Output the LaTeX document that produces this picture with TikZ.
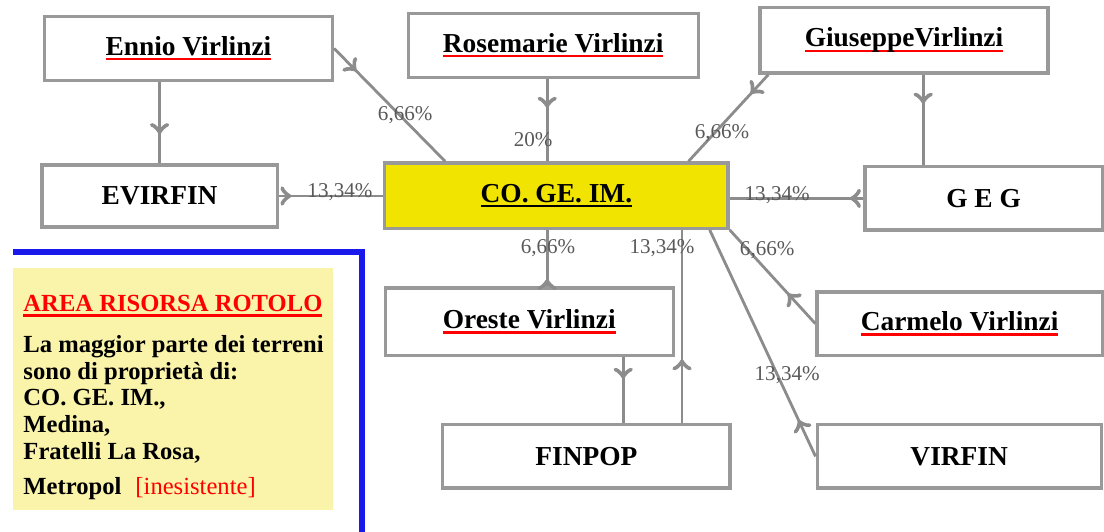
\documentclass[tikz,border=0pt]{standalone}
\usepackage{fontspec}
\setmainfont{Liberation Serif}
\usetikzlibrary{arrows, decorations.markings}
\colorlet{box edge}{black!40}
\colorlet{link line}{black!45}
\colorlet{link tip}{black!70}
\colorlet{pct text}{black!65}
\definecolor{cogeim fill}{RGB}{240,228,0}
\definecolor{note fill}{RGB}{250,243,170}
\definecolor{frame blue}{RGB}{25,25,235}
\newcommand{\ulname}[2][red]{\setbox0\hbox{#2}\rlap{\color{#1}\rule[-3.5pt]{\wd0}{1.6pt}}\box0}
\tikzset{
  person/.style={draw=box edge, line width=2.4pt, fill=white, minimum width=7.2cm,
    minimum height=1.6cm, inner sep=0pt, font=\fontsize{19.5}{22}\selectfont\bfseries},
  link/.style={draw=link line, line width=2pt,
    postaction={decorate, draw=link tip},
    decoration={markings, mark=at position #1 with {\arrow[scale=1.6]{>}}}},
  pct/.style={text=pct text, inner sep=0pt, font=\fontsize{15}{17}\selectfont},
  note/.style={anchor=north west, align=left, inner sep=0pt,
    font=\fontsize{17.5}{19}\selectfont\bfseries}
}

\begin{document}
\begin{tikzpicture}
    \useasboundingbox (0,0) rectangle (27.6,-13.275);
    % riquadro area risorsa
    \fill[note fill] (0.33,-6.7) rectangle (8.33,-12.75);
    \draw[frame blue, line width=4.5pt] (0.33,-6.3) -- (9.05,-6.3) -- (9.05,-13.4);
    \node[note] (area) at (0.58,-7.38) {\textcolor{red}{\ulname{AREA RISORSA ROTOLO}}\\[10pt]
      La maggior parte dei terreni\\
      sono di proprietà di:\\
      CO. GE. IM.,\\
      Medina,\\
      Fratelli La Rosa,\\[6pt]
      Metropol\hspace{10pt}\textcolor{red}{\mdseries[inesistente]}};
    % soci e societa
    \node[person] (ennio) at (4.71,-1.21) {\ulname{Ennio Virlinzi}};
    \node[person, minimum width=7.25cm] (rosemarie) at (13.83,-1.13) {\ulname{Rosemarie Virlinzi}};
    \node[person, minimum height=1.63cm] (giuseppe) at (22.6,-1.01) {\ulname{GiuseppeVirlinzi}};
    \node[person, minimum width=5.88cm, minimum height=1.55cm] (evirfin) at (3.99,-4.9) {EVIRFIN};
    \node[person, fill=cogeim fill, minimum width=8.58cm, minimum height=1.63cm] (cogeim) at (13.91,-4.89) {\ulname[black]{CO. GE. IM.}};
    \node[person, minimum width=5.93cm, minimum height=1.58cm] (geg) at (24.59,-4.96) {G E G};
    \node[person, minimum height=1.68cm] (oreste) at (13.23,-8.04) {\ulname{Oreste Virlinzi}};
    \node[person, minimum width=7.13cm, minimum height=1.58cm] (carmelo) at (23.99,-8.09) {\ulname{Carmelo Virlinzi}};
    \node[person, minimum width=7.18cm, minimum height=1.58cm] (finpop) at (14.66,-11.41) {FINPOP};
    \node[person, minimum width=7.1cm, minimum height=1.58cm] (virfin) at (23.98,-11.41) {VIRFIN};
    % partecipazioni
    \draw[link=0.64] (ennio.south -| evirfin.north) -- (evirfin.north);
    \draw[link=0.2] (ennio.east) -- ([xshift=1.55cm]cogeim.north west);
    \draw[link=0.35] ([xshift=-0.15cm]rosemarie.south) -- ([xshift=-0.15cm]rosemarie.south |- cogeim.north);
    \draw[link=0.22] ([xshift=0.25cm]giuseppe.south west) -- ([xshift=-1.03cm]cogeim.north east);
    \draw[link=0.32] ([xshift=0.48cm]giuseppe.south) -- ([xshift=0.48cm]giuseppe.south |- geg.north);
    \draw[link=0.12] (evirfin.east) -- (evirfin.east -| cogeim.west);
    \draw[link=0.1] (geg.west) -- (geg.west -| cogeim.east);
    \draw[link=0.13] ([xshift=0.45cm]oreste.north) -- ([xshift=0.45cm]oreste.north |- cogeim.south);
    \draw[link=0.33] ([xshift=2.35cm]oreste.south) -- ([xshift=2.35cm]oreste.south |- finpop.north);
    \draw[link=0.33] ([xshift=2.39cm]finpop.north) -- ([xshift=2.39cm]finpop.north |- cogeim.south);
    \draw[link=0.32] (carmelo.west) -- (cogeim.south east);
    \draw[link=0.16] (virfin.west) -- ([xshift=-0.5cm]cogeim.south east);
    % quote
    \node[pct] (pEnnio) at (10.13,-2.88) {6,66\%};
    \node[pct] (pRosemarie) at (13.33,-3.5) {20\%};
    \node[pct] (pGiuseppe) at (18.05,-3.33) {6,66\%};
    \node[pct] (pEvirfin) at (8.5,-4.8) {13,34\%};
    \node[pct] (pGeg) at (19.43,-4.88) {13,34\%};
    \node[pct] (pOreste) at (13.7,-6.2) {6,66\%};
    \node[pct] (pFinpop) at (16.55,-6.2) {13,34\%};
    \node[pct] (pCarmelo) at (19.18,-6.25) {6,66\%};
    \node[pct] (pVirfin) at (19.68,-9.38) {13,34\%};
\end{tikzpicture}
\end{document}
